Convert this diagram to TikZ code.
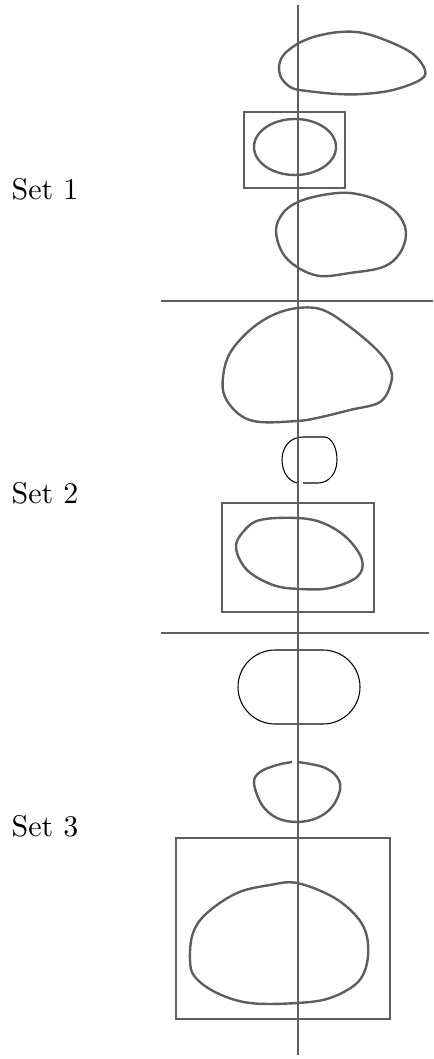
\documentclass[tikz,border=0pt]{standalone}
\definecolor{PlotGray}{HTML}{5E5E5E}

\begin{document}
\begin{tikzpicture}[
    x=0.3333pt, y=-0.3333pt,
    axisline/.style={draw=PlotGray, line width=0.7pt},
    setbox/.style={draw=PlotGray, line width=0.7pt},
    blob/.style={draw=PlotGray, line width=0.8pt},
    thinarc/.style={draw=black, line width=0.35pt},
    setlabel/.style={anchor=base west, inner sep=0pt}
  ]
    \useasboundingbox (0,0) rectangle (433,1059);

    \node[setlabel] (lbl1) at (11,200) {Set 1};
    \node[setlabel] (lbl2) at (11,503) {Set 2};
    \node[setlabel] (lbl3) at (11,836) {Set 3};

    % set 1
    \draw[blob] plot[smooth cycle, tension=0.6] coordinates {(279,68) (282,57) (290,49) (301,42) (317,36) (340,32) (363,33) (390,42) (413,54) (425,70) (420,80) (393,90) (363,94) (337,94) (307,91) (292,88) (282,79)};
    \draw[setbox] (244,112) rectangle (345,188);
    \draw[blob] (295,147) ellipse[x radius=41, y radius=28];
    \draw[blob] plot[smooth cycle, tension=0.6] coordinates {(276,230) (283,213) (298,202) (323,195) (350,193) (377,200) (397,213) (406,232) (400,253) (383,267) (350,273) (320,276) (297,267) (282,252)};

    % set 2
    \draw[blob] plot[smooth cycle, tension=0.6] coordinates {(298,308) (323,310) (350,327) (377,350) (390,368) (391,383) (380,402) (350,410) (317,418) (297,421) (260,422) (240,415) (225,397) (223,377) (230,353) (250,330) (273,315)};
    \draw[thinarc] (303,437) .. controls (290,437) and (282,447) .. (282,460) .. controls (282,473) and (290,483) .. (299,483);
    \draw[thinarc] (325,437) .. controls (332,438) and (337,448) .. (337,460) .. controls (337,473) and (329,483) .. (318,483);
    \draw[blob] (303,437) -- (325,437);
    \draw[blob] (303,483) -- (318,483);
    \draw[setbox] (222,503) rectangle (374,612);
    \draw[blob] plot[smooth cycle, tension=0.6] coordinates {(260,520) (297,518) (323,523) (347,538) (362,560) (357,577) (330,588) (300,589) (273,585) (247,570) (236,548) (243,532)};

    % set 3
    \draw[thinarc] (275,650) .. controls (254.6,650) and (238,666.6) .. (238,687) .. controls (238,707.4) and (254.6,724) .. (275,724);
    \draw[thinarc] (323,650) .. controls (343.4,650) and (360,666.6) .. (360,687) .. controls (360,707.4) and (343.4,724) .. (323,724);
    \draw[blob] (275,650) -- (323,650);
    \draw[blob] (275,724) -- (323,724);
    \draw[blob] plot[smooth, tension=0.6] coordinates {(298,762) (323,767) (337,777) (340,790) (332,807) (317,818) (297,822) (277,818) (262,805) (254,783) (260,772) (277,765) (292,762)};
    \draw[setbox] (176,838) rectangle (390,1019);
    \draw[blob] plot[smooth cycle, tension=0.6] coordinates {(297,883) (333,897) (357,917) (367,937) (367,963) (357,983) (330,998) (297,1003) (250,1003) (217,993) (195,977) (190,960) (193,933) (207,913) (237,893) (270,885)};

    % axes
    \draw[axisline] (161,301) -- (433,301);
    \draw[axisline] (161,633) -- (429,633);
    \draw[axisline] (298,5) -- (298,1055);
\end{tikzpicture}
\end{document}
